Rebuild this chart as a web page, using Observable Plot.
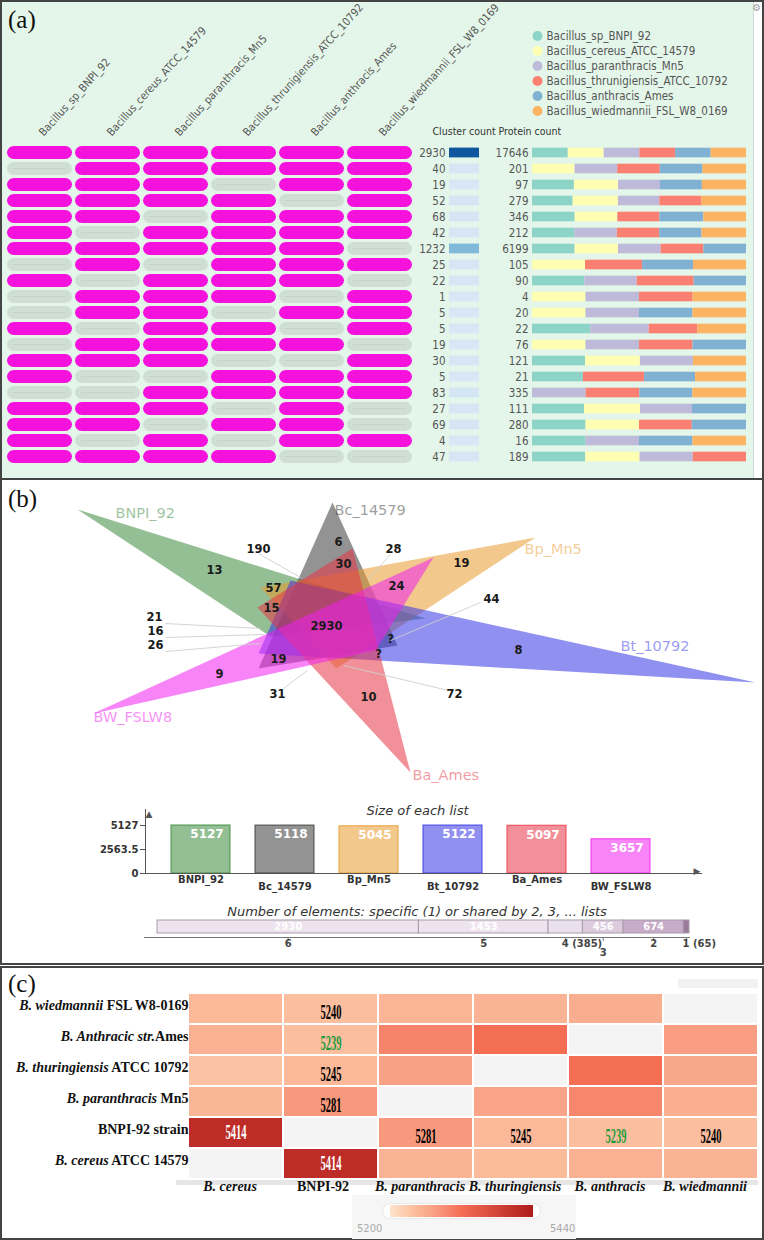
<!DOCTYPE html>
<html><head><meta charset="utf-8">
<script src="https://cdn.jsdelivr.net/npm/d3@7"></script>
<script src="https://cdn.jsdelivr.net/npm/@observablehq/plot@0.6"></script>
<style>
body{margin:0;background:#fff;}
#root{position:relative;width:764px;height:1240px;overflow:hidden;font-family:"Liberation Sans",Arial,sans-serif;}
</style></head><body><div id="root"></div>
<script>
// ---------------- DATA: panel (a) ----------------
const genomes = ["Bacillus_sp_BNPI_92","Bacillus_cereus_ATCC_14579","Bacillus_paranthracis_Mn5","Bacillus_thrunigiensis_ATCC_10792","Bacillus_anthracis_Ames","Bacillus_wiedmannii_FSL_W8_0169"];
const genomeColors = ["#8dd3c7","#ffffb3","#bebada","#fb8072","#80b1d3","#fdb462"];
const clusterCounts = [2930,40,19,52,68,42,1232,25,22,1,5,5,19,30,5,83,27,69,4,47];
const proteinTotals = [17646,201,97,279,346,212,6199,105,90,4,20,22,76,121,21,335,111,280,16,189];
// per-genome protein counts in each cluster row (0 = genome absent)
const protBNPI  = [2950,0,19,53,69,42,1235,0,22,0,0,6,0,30,5,0,27,70,4,47];
const protCereus= [2960,40,20,59,69,0,1255,26,0,1,5,0,19,31,0,0,29,70,0,48];
const protPara  = [2940,40,19,54,0,42,1235,0,22,1,5,6,19,30,0,84,27,0,4,47];
const protThur  = [2950,40,0,55,68,42,1240,28,24,1,0,5,19,0,6,84,0,69,0,47];
const protAnth  = [2930,40,19,0,71,42,1234,25,22,0,5,0,19,0,5,83,28,71,4,0];
const protWied  = [2916,41,20,58,69,44,0,26,0,1,5,5,0,30,5,84,0,0,4,0];

// ---------------- DATA: panel (b) ----------------
const vennSets = ["BNPI_92","Bc_14579","Bp_Mn5","Bt_10792","Ba_Ames","BW_FSLW8"];
const vennColors = ["#3d8a3d","#3a3a3a","#e89a30","#3535e6","#e83545","#f020f0"];
const triX = [[77,270,425],[332,258,397],[535,260,336],[755,258,290],[410,257,352],[93,433,375]];
const triY = [[509,636,618],[502,668,645],[537,587,668],[682,653,580],[772,607,548],[713,557,650]];
const vennLabelX = [115,334,524,620,412,93];
const vennLabelY = [513,510,549,646,775,717];
const regionText = ["13","190","6","28","30","19","57","24","15","44","21","16","26","2930","?","?","8","19","9","31","10","72"];
const regionX = [214,258,338,393,343,461,273,396,271,491,154,155,155,326,390,378,518,278,219,277,368,454];
const regionY = [570,549,542,549,564,563,588,586,608,599,617,631,645,626,639,654,650,659,674,694,697,694];
const leaderX1 = [258,390,480,165,165,165,283,448];
const leaderY1 = [553,554,602,623,637,651,688,690];
const leaderX2 = [300,368,390,260,263,260,307,343];
const leaderY2 = [577,578,640,628,634,643,670,665];
const listSizes = [5127,5118,5045,5122,5097,3657];
const sizeTicks = [0,2563.5,5127];
const shareDegrees = ["6","5","4","3","2","1"];
const shareCounts = [2930,1453,385,456,674,65];
const shareLabels = ["6","5","4 (385)","3","2","1 (65)"];
const shareInside = ["2930","1453","","456","674",""];
const shareColors = ["#eee4ef","#eee4ef","#ebe1ec","#dccbdd","#c7abc8","#9b7b9c"];

// ---------------- DATA: panel (c) ----------------
const heatCols = ["B. cereus","BNPI-92","B. paranthracis","B. thuringiensis","B. anthracis","B. wiedmannii"];
const heatColItalic = [true,false,true,true,true,true];
const heatRowItalic = ["B. wiedmannii","B. Anthracic str.","B. thuringiensis","B. paranthracis","","B. cereus"];
const heatRowRest = [" FSL W8-0169","Ames"," ATCC 10792"," Mn5","BNPI-92 strain"," ATCC 14579"];
const rowWied   = [5245,5240,5250,5252,5258,null];
const rowAnth   = [5255,5239,5300,5320,null,5275];
const rowThur   = [5236,5245,5272,null,5320,5265];
const rowPara   = [5248,5281,null,5268,5298,5256];
const rowBNPI   = [5414,null,5281,5245,5239,5240];
const rowCereus = [null,5414,5252,5242,5254,5252];
const heatScaleDomain = [5200,5240,5285,5320,5440];
const heatScaleRange = ["#fde4cc","#fbbe9e","#f8957a","#f46e54","#ae1a1a"];

// ---------------- helpers ----------------
const root = document.getElementById("root");
function box(left, top, w, h, css){const d=document.createElement("div");d.style.cssText=`position:absolute;left:${left}px;top:${top}px;width:${w}px;height:${h}px;box-sizing:border-box;${css}`;root.appendChild(d);return d;}
function put(el, left, top){el.style.position="absolute";el.style.left=left+"px";el.style.top=top+"px";root.appendChild(el);return el;}
function txt(s, left, top, css){const d=document.createElement("div");d.textContent=s;d.style.cssText=`position:absolute;left:${left}px;top:${top}px;white-space:nowrap;${css}`;root.appendChild(d);return d;}
const narrow = '"Liberation Sans Narrow","DejaVu Sans Condensed","Liberation Sans",sans-serif';
const vsans = '"DejaVu Sans","Liberation Sans",sans-serif';
const serif = '"Liberation Serif","Times New Roman",serif';
const baseStyle = (ff, fs) => ({background:"transparent", overflow:"visible", fontFamily:ff, fontSize:fs});

// ---------------- panel frames ----------------
box(0,0,764,480,"border:2px solid #444;background:#fff;");
box(2,2,752,476,"background:#e4f6e9;border-right:1px solid #cfd8d2;");
box(0,478,764,487,"border:2px solid #444;background:#fff;");
box(0,966,764,274,"border:2px solid #444;background:#fff;");

// ---------------- panel (a) ----------------
const protByGenome = [protBNPI,protCereus,protPara,protThur,protAnth,protWied];
const rowIdx = d3.range(clusterCounts.length);
const cells = rowIdx.flatMap(r => genomes.map((g,j)=>({row:r, genome:g, protein:protByGenome[j][r]})));
const yRows = {domain: rowIdx, padding: 0.2, axis: null};

const matrix = Plot.plot({
  width:420, height:478, marginTop:136, marginBottom:4.3, marginLeft:4, marginRight:5,
  style: baseStyle(narrow,"11px"),
  x:{domain:genomes, padding:0.044, axis:null},
  y: yRows,
  marks:[
    Plot.cell(cells, {x:"genome", y:"row", fill:d=>d.protein>0?"#f512dd":"#cfdfd3", rx:6.6}),
    Plot.cell(cells.filter(d=>d.protein===0), {x:"genome", y:"row", fill:"#bccdc0", insetTop:6.2, insetBottom:6.2, insetLeft:6, insetRight:6}),
    Plot.text(genomes, {x:d=>d, text:d=>d, frameAnchor:"top", rotate:-48, textAnchor:"start", dx:-2, dy:-5, fill:"#555", fontSize:11})
  ]
});
put(matrix,0,0);

const clusterPlot = Plot.plot({
  width:60, height:478, marginTop:136, marginBottom:4.3, marginLeft:29, marginRight:1,
  style: baseStyle(narrow,"11.5px"),
  y: yRows,
  color:{type:"linear", scheme:"blues", domain:[-650,3530]},
  marks:[
    Plot.cell(rowIdx, {y:r=>r, fill:r=>clusterCounts[r], insetTop:1.6, insetBottom:1.6}),
    Plot.text(rowIdx, {y:r=>r, text:r=>String(clusterCounts[r]), frameAnchor:"left", textAnchor:"end", dx:-4, fill:"#555"}),
    Plot.text(["Cluster count"], {frameAnchor:"top-left", textAnchor:"start", dx:-17, dy:-9, fill:"#333", fontSize:10.5})
  ]
});
put(clusterPlot,420,0);

const proteinPlot = Plot.plot({
  width:284, height:478, marginTop:136, marginBottom:4.3, marginLeft:52, marginRight:18,
  style: baseStyle(narrow,"11.5px"),
  x:{axis:null}, y: yRows,
  color:{domain:genomes, range:genomeColors},
  marks:[
    Plot.barX(cells.filter(d=>d.protein>0), Plot.stackX({offset:"normalize", x:"protein", y:"row", fill:"genome", insetTop:1.7, insetBottom:1.7})),
    Plot.text(rowIdx, {y:r=>r, text:r=>String(proteinTotals[r]), frameAnchor:"left", textAnchor:"end", dx:-4, fill:"#555"}),
    Plot.text(["Protein count"], {frameAnchor:"top-left", textAnchor:"start", dx:-34, dy:-9, fill:"#333", fontSize:10.5})
  ]
});
put(proteinPlot,480,0);

const legendPlot = Plot.plot({
  width:229, height:93, marginTop:0, marginBottom:0, marginRight:0, marginLeft:12,
  style: baseStyle(narrow,"11.5px"),
  y:{type:"band", domain:genomes, padding:0, axis:null},
  color:{domain:genomes, range:genomeColors},
  marks:[
    Plot.dot(genomes, {y:d=>d, fill:d=>d, r:5, frameAnchor:"left"}),
    Plot.text(genomes, {y:d=>d, text:d=>d, frameAnchor:"left", textAnchor:"start", dx:9, fill:"#555"})
  ]
});
put(legendPlot,525,26);
txt("(a)",8,6,`font-family:${serif};font-size:25px;color:#111;`);
txt("⚙",752,2,"font-size:10px;color:#999;");

// ---------------- panel (b) ----------------
const triPoints = vennSets.flatMap((name,s) => [0,1,2,0].map(k => ({set:name, x:triX[s][k], y:triY[s][k]})));
const leaders = leaderX1.map((x,i)=>({x1:x, y1:leaderY1[i], x2:leaderX2[i], y2:leaderY2[i]}));
const vennPlot = Plot.plot({
  width:764, height:320, margin:0,
  style: baseStyle(vsans,"12px"),
  x:{domain:[0,764], range:[0,764], axis:null},
  y:{domain:[479,799], range:[0,320], axis:null},
  color:{domain:vennSets, range:vennColors},
  marks:[
    Plot.line(triPoints, {x:"x", y:"y", z:"set", fill:"set", stroke:"none", fillOpacity:0.55}),
    Plot.link(leaders, {x1:"x1", y1:"y1", x2:"x2", y2:"y2", stroke:"#cfcfcf", strokeWidth:0.9}),
    Plot.text(vennSets, {x:(d,i)=>vennLabelX[i], y:(d,i)=>vennLabelY[i], text:d=>d, fill:d=>d, fillOpacity:0.5, textAnchor:"start", fontSize:14.5}),
    Plot.text(regionText, {x:(d,i)=>regionX[i], y:(d,i)=>regionY[i], text:d=>d, fill:"#1a1a1a", fontWeight:"bold", fontSize:11.5})
  ]
});
put(vennPlot,0,479);
txt("(b)",8,485,`font-family:${serif};font-size:25px;color:#111;`);

const sizePlot = Plot.plot({
  width:620, height:100, marginLeft:45, marginRight:19, marginTop:9, marginBottom:27,
  style: baseStyle(vsans,"10px"),
  x:{domain:vennSets, padding:0.3, insetRight:25, axis:null},
  y:{domain:[0,5127], insetTop:16, axis:null},
  color:{domain:vennSets, range:vennColors},
  marks:[
    Plot.barY(vennSets, {x:d=>d, y:(d,i)=>listSizes[i], fill:d=>d, fillOpacity:0.55, stroke:d=>d, strokeOpacity:0.75, strokeWidth:1.2}),
    Plot.text(vennSets, {x:d=>d, y:(d,i)=>listSizes[i], text:(d,i)=>String(listSizes[i]), dy:9, dx:6, fill:"white", fontWeight:"bold", fontSize:12}),
    Plot.frame({anchor:"left", stroke:"#555"}),
    Plot.frame({anchor:"bottom", stroke:"#555"}),
    Plot.text(["▲"], {frameAnchor:"top-left", fill:"#555", fontSize:9, dy:1}),
    Plot.text(["▶"], {frameAnchor:"bottom-right", fill:"#555", fontSize:9, dx:-1}),
    Plot.tickY(sizeTicks, {y:d=>d, stroke:"#555", insetLeft:-5, insetRight:556}),
    Plot.text(sizeTicks, {y:d=>d, text:d=>String(d), frameAnchor:"left", textAnchor:"end", dx:-7, fontWeight:"bold", fill:"#333"}),
    Plot.text(vennSets.filter((d,i)=>i%2===0), {x:d=>d, text:d=>d, frameAnchor:"bottom", dy:9, fontWeight:"bold", fill:"#333"}),
    Plot.text(vennSets.filter((d,i)=>i%2===1), {x:d=>d, text:d=>d, frameAnchor:"bottom", dy:16, fontWeight:"bold", fill:"#333"}),
    Plot.text(["Size of each list"], {frameAnchor:"top", dy:-4, dx:-6, fontStyle:"italic", fontSize:13, fill:"#333"})
  ]
});
put(sizePlot,100,800);

const stackOpts = extra => Plot.stackX({x:(d,i)=>shareCounts[i], ...extra});
const sharePlot = Plot.plot({
  width:764, height:62, marginLeft:144, marginRight:75, marginTop:20, marginBottom:29,
  style: baseStyle(vsans,"10px"),
  x:{domain:[0,d3.sum(shareCounts)], insetLeft:13, axis:null},
  color:{domain:shareDegrees, range:shareColors},
  marks:[
    Plot.barX(shareDegrees, stackOpts({fill:d=>d, stroke:"#a89ca9", strokeWidth:1})),
    Plot.text(shareDegrees, stackOpts({text:(d,i)=>shareInside[i], fill:"white", fontWeight:"bold", fontSize:10})),
    Plot.frame({anchor:"bottom", dy:4, stroke:"#777"}),
    Plot.tickX(shareDegrees, stackOpts({stroke:"#777", insetTop:17, insetBottom:-8})),
    Plot.text(shareDegrees, stackOpts({text:(d,i)=>[0,1,4].includes(i)?shareLabels[i]:"", frameAnchor:"bottom", dy:13, fontWeight:"bold", fill:"#444"})),
    Plot.text(shareDegrees, stackOpts({text:(d,i)=>[2,5].includes(i)?shareLabels[i]:"", frameAnchor:"bottom", dy:13, dx:-4, textAnchor:"start", fontWeight:"bold", fill:"#444"})),
    Plot.text(shareDegrees, stackOpts({text:(d,i)=>i===3?shareLabels[i]:"", frameAnchor:"bottom", dy:22, fontWeight:"bold", fill:"#444"})),
    Plot.text(["Number of elements: specific (1) or shared by 2, 3, ... lists"], {frameAnchor:"top", dy:-14, fontStyle:"italic", fontSize:13, fill:"#333"})
  ]
});
put(sharePlot,0,900);

// ---------------- panel (c) ----------------
box(352,1195,224,44,"background:#f6f6f6;");
box(678,979,80,9,"background:#f2f2f2;");
box(176,1180,582,5,"background:#e6e6e6;");
const heatRowLabels = heatRowItalic.map((s,i)=>s+heatRowRest[i]);
const heatRows = [rowWied,rowAnth,rowThur,rowPara,rowBNPI,rowCereus];
const heatCells = heatRows.flatMap((vals,r)=>vals.map((v,c)=>({row:heatRowLabels[r], col:heatCols[c], value:v, label:v===null?"":String(v), r, c})));
const isLabeled = d => d.value!==null && (d.r===4 || d.c===1);
const heatPlot = Plot.plot({
  width:764, height:272, marginLeft:188, marginRight:6, marginTop:23, marginBottom:60,
  style: baseStyle(serif,"14px"),
  x:{domain:heatCols, padding:0, axis:null},
  y:{domain:heatRowLabels, padding:0, axis:null},
  color:{type:"linear", domain:heatScaleDomain, range:heatScaleRange},
  marks:[
    Plot.cell(heatCells.filter(d=>d.value===null), {x:"col", y:"row", fill:"#f4f4f4", inset:1}),
    Plot.cell(heatCells.filter(d=>d.value!==null), {x:"col", y:"row", fill:"value", inset:1}),
    Plot.text(heatCells.filter(d=>isLabeled(d)&&d.value<5400&&d.value!==5239), {x:"col", y:"row", text:"label", fill:"#000", fontWeight:"bold", fontSize:21, dy:3}),
    Plot.text(heatCells.filter(d=>isLabeled(d)&&d.value===5239), {x:"col", y:"row", text:"label", fill:"#1e9a3c", fontWeight:"bold", fontSize:21, dy:3}),
    Plot.text(heatCells.filter(d=>isLabeled(d)&&d.value>5400), {x:"col", y:"row", text:"label", fill:"#fff", fontWeight:"bold", fontSize:21, dy:-1}),
    Plot.text(heatRowLabels, {y:d=>d, text:d=>d, frameAnchor:"left", textAnchor:"end", dy:-3, fontWeight:"bold", fill:"#111"}),
    Plot.text(heatCols.filter((d,i)=>heatColItalic[i]), {x:d=>d, text:d=>d, frameAnchor:"bottom", dy:10, dx:-6, fontWeight:"bold", fontStyle:"italic", fill:"#111"}),
    Plot.text(heatCols.filter((d,i)=>!heatColItalic[i]), {x:d=>d, text:d=>d, frameAnchor:"bottom", dy:10, dx:-8, fontWeight:"bold", fill:"#111"})
  ]
});
put(heatPlot,0,968);
txt("(c)",8,970,`font-family:${serif};font-size:25px;color:#111;`);

// mixed italic row labels and condensed cell numbers
d3.select(heatPlot).selectAll("text").each(function(){
  const s = this.textContent;
  const i = heatRowLabels.indexOf(s);
  const t = d3.select(this);
  if (i >= 0) {
    t.text(null);
    if (heatRowItalic[i]) t.append("tspan").attr("font-style","italic").text(heatRowItalic[i]);
    t.append("tspan").text(heatRowRest[i]);
  } else if (/^\d{4}$/.test(s)) {
    t.attr("textLength",21).attr("lengthAdjust","spacingAndGlyphs");
  }
});

// colour bar built from the heatmap colour scale
const cs = heatPlot.scale("color");
const stops = d3.range(0,25).map(k=>{const v=5200+k*10; return `${cs.apply(v)} ${(k/24*100).toFixed(1)}%`;}).join(",");
box(383,1204,157,14,"background:#fff;border-radius:7px;box-shadow:0 0 2px #ccc;");
box(390,1205,143,12,`background:linear-gradient(to right,${stops});`);
txt("5200",357,1223,`font-family:${vsans};font-size:10px;color:#aaa;`);
txt("5440",550,1223,`font-family:${vsans};font-size:10px;color:#aaa;`);
</script></body></html>
